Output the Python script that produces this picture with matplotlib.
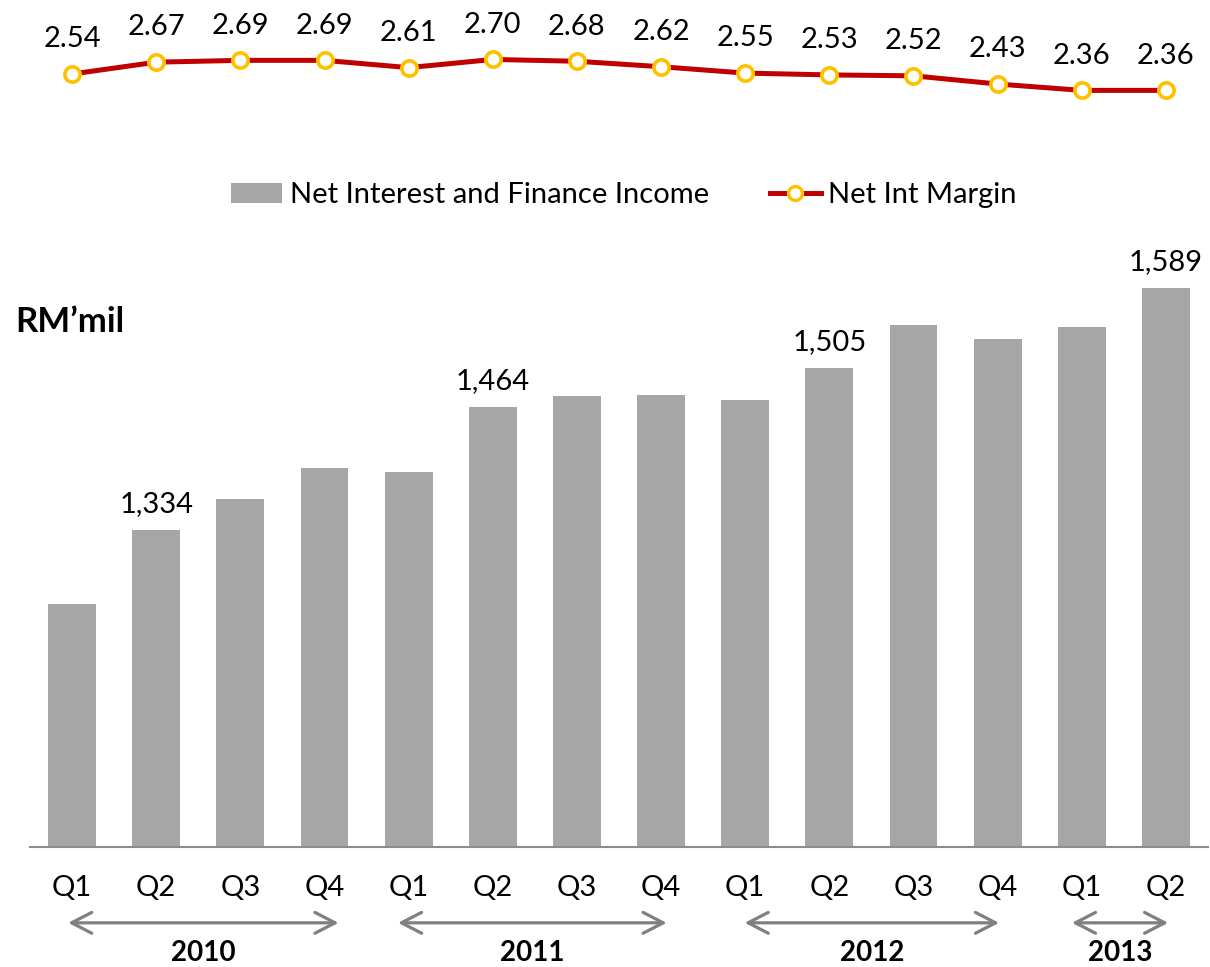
import matplotlib
matplotlib.use("Agg")
from matplotlib import pyplot as plt
from matplotlib.patches import Patch
from matplotlib.lines import Line2D
import numpy as np

plt.rcParams['font.family'] = ['Lato', 'DejaVu Sans']

# data
quarters = ['Q1', 'Q2', 'Q3', 'Q4', 'Q1', 'Q2', 'Q3', 'Q4', 'Q1', 'Q2', 'Q3', 'Q4', 'Q1', 'Q2']
income = [1256, 1334, 1367, 1399, 1395, 1464, 1475, 1476, 1471, 1505, 1550, 1535, 1548, 1589]
income_labelled = [1, 5, 9, 13]
nim = [2.54, 2.67, 2.69, 2.69, 2.61, 2.70, 2.68, 2.62, 2.55, 2.53, 2.52, 2.43, 2.36, 2.36]
years = ['2010', '2011', '2012', '2013']
year_spans = [(-0.08, 3.2), (3.84, 7.1), (7.96, 11.05), (11.85, 13.06)]

bar_col = '#A6A6A6'
line_col = '#C00000'
mark_col = '#FFC000'

W, H = 1210, 967
fig = plt.figure(figsize=(W / 100, H / 100), dpi=100)
x = np.arange(len(quarters))

# bar axes
left = 30 / W
width = (1208 - 30) / W
ax = fig.add_axes([left, (H - 847) / H, width, (847 - 250) / H])
ax.bar(x, income, width=0.57, color=bar_col, zorder=2)
ax.set_xlim(-0.5, len(quarters) - 0.5)
ax.set_ylim(1000, 1629)
for s in ['top', 'right', 'left']:
    ax.spines[s].set_visible(False)
ax.spines['bottom'].set_color('#8C8C8C')
ax.spines['bottom'].set_linewidth(1.5)
ax.set_yticks([])
ax.set_xticks(x)
ax.set_xticklabels(quarters, fontsize=21)
ax.tick_params(axis='x', length=0, pad=20)
for i in income_labelled:
    ax.annotate(f'{income[i]:,}', (x[i], income[i]), xytext=(0, 9),
                textcoords='offset points', ha='center', va='bottom', fontsize=21)

# year arrows and labels
tr = ax.get_xaxis_transform()
for yr, (a, b) in zip(years, year_spans):
    ax.annotate('', xy=(a, -0.127), xytext=(b, -0.127), xycoords=tr, textcoords=tr,
                arrowprops=dict(arrowstyle='<->,head_length=1.45,head_width=0.75',
                                color='#808080', lw=2.3), annotation_clip=False)
    ax.text((a + b) / 2, -0.177, yr, transform=tr, ha='center', va='center',
            fontsize=20, fontweight='bold')

fig.text(15 / W, 1 - 322 / H, 'RM\u2019mil', fontsize=25, fontweight='bold',
         ha='left', va='center')

# line axes
ax2 = fig.add_axes([left, (H - 140) / H, width, 140 / H])
ax2.plot(x, nim, color=line_col, lw=3.6, marker='o', ms=11, mfc='white',
         mec=mark_col, mew=2.6, zorder=3)
ax2.set_xlim(-0.5, len(quarters) - 0.5)
ax2.set_ylim(1.815, 3.353)
ax2.axis('off')
for i, v in enumerate(nim):
    ax2.annotate(f'{v:.2f}', (x[i], v), xytext=(0, 25), textcoords='offset points',
                 ha='center', va='center', fontsize=21)

# legend
handles = [Patch(facecolor=bar_col, edgecolor='none'),
           Line2D([0], [0], color=line_col, lw=3.6, marker='o', ms=10, mfc='white',
                  mec=mark_col, mew=2.4)]
fig.legend(handles, ['Net Interest and Finance Income', 'Net Int Margin'],
           loc='center', bbox_to_anchor=(624 / W, 1 - 195 / H), ncol=2, frameon=False,
           fontsize=21, handlelength=1.75, handletextpad=0.25, columnspacing=2.1)

plt.savefig('out.png', dpi=100)
